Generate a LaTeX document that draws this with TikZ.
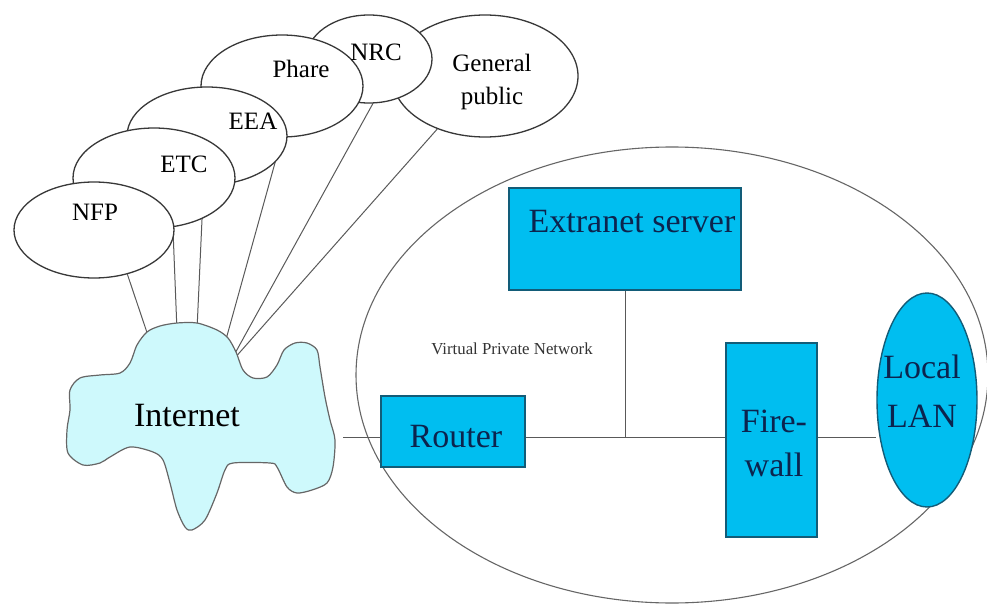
\documentclass[tikz,border=0pt]{standalone}
\usepackage{fontspec}
\setmainfont{Liberation Serif}
\usepackage{xcolor}
\usetikzlibrary{shapes.geometric}
\usetikzlibrary{backgrounds}
\usetikzlibrary{positioning}

\definecolor{devfill}{RGB}{0,190,240}
\definecolor{devline}{RGB}{18,92,120}
\definecolor{devink}{RGB}{12,36,78}
\definecolor{netfill}{RGB}{206,249,252}

\begin{document}
\begin{tikzpicture}[x=0.5pt, y=-0.5pt,
		member/.style={ellipse, draw=black!78, fill=white, line width=0.65pt, inner sep=0pt},
		memtext/.style={font=\fontsize{12.5}{16.5}\selectfont, align=center, inner sep=0pt},
		device/.style={draw=devline, fill=devfill, line width=0.7pt, inner sep=0pt},
		devtext/.style={font=\fontsize{17}{22}\selectfont, text=devink, align=center, inner sep=0pt},
		link/.style={draw=black!65, line width=0.5pt}]

	\useasboundingbox (0,0) rectangle (987,605);

	% private network
	\node[ellipse, draw=black!60, fill=white, line width=0.55pt, minimum width=316pt, minimum height=228pt] (vpn) at (672,375) {};
	\node[font=\fontsize{8.4}{10}\selectfont, text=black!80, inner sep=0pt] (vpntext) at (512,349) {Virtual Private Network};

	\node[device, minimum width=116pt, minimum height=51pt] (ext) at (625,239) {};
	\node[device, minimum width=72pt, minimum height=35.5pt] (router) at (453,431.5) {};
	\node[device, minimum width=45.5pt, minimum height=97pt] (fw) at (771.5,440) {};
	\node[device, ellipse, minimum width=50pt, minimum height=107pt] (lan) at (927,400) {};

	\node[devtext] (exttext) at (632,222) {Extranet server};
	\node[devtext] (routertext) at (456,437) {Router};
	\node[devtext] (fwtext) at (774,443) {Fire-\\wall};
	\node[devtext, font=\fontsize{17}{24.5}\selectfont] (lantext) at (922,391) {Local\\LAN};

	\coordinate (netport) at (343,437);
	\draw[link] (netport) -- (netport -| router.west);
	\draw[link] (router.east |- netport) -- (fw.west |- netport);
	\draw[link] (fw.east |- netport) -- (lan.west |- netport);
	\draw[link] (ext.south) -- (ext.south |- netport);

	% internet cloud
	\draw[draw=black!60, fill=netfill, line width=0.6pt] plot[smooth cycle, tension=0.5] coordinates {
		(147,332) (160,326) (177,323) (197,323) (217,330) (228,338) (236,352) (243,370)
		(253,378) (267,377) (277,365) (284,350) (295,343) (307,343) (317,350) (320,367)
		(325,397) (330,420) (335,440) (333,467) (327,483) (312,490) (297,493) (287,487)
		(277,467) (270,463) (233,463) (225,470) (217,493) (205,520) (192,530) (185,527)
		(177,510) (170,483) (163,460) (153,452) (130,447) (110,457) (100,463) (83,465)
		(68,453) (67,430) (70,410) (70,390) (80,378) (100,375) (120,373) (130,363) (137,345)};
	\node[font=\fontsize{17}{20}\selectfont, inner sep=0pt] (inet) at (187,416) {Internet};

	\coordinate (in1) at (149.5,340);
	\coordinate (in2) at (177,331);
	\coordinate (in3) at (197,330);
	\coordinate (in4) at (225,343);
	\coordinate (in5) at (233,357);
	\coordinate (in6) at (233,360);

	% partners
	\node[member, minimum width=93pt, minimum height=61pt] (gp) at (485,76) {};
	\node[member, minimum width=63pt, minimum height=44pt] (nrc) at (369,59) {};
	\node[member, minimum width=81pt, minimum height=51pt] (phare) at (282,86) {};
	\node[member, minimum width=80pt, minimum height=49pt] (eea) at (207,136) {};
	\node[member, minimum width=81pt, minimum height=50pt] (etc) at (154,178) {};
	\node[member, minimum width=80pt, minimum height=48pt] (nfp) at (94,230) {};

	\node[memtext] (gptext) at (492,82) {General\\public};
	\node[memtext] (nrctext) at (376,52) {NRC};
	\node[memtext] (pharetext) at (301,69) {Phare};
	\node[memtext] (eeatext) at (253,121) {EEA};
	\node[memtext] (etctext) at (184,164) {ETC};
	\node[memtext] (nfptext) at (95,212) {NFP};

	\begin{scope}[on background layer]
		\draw[link] (nfp.-53) -- (in1);
		\draw[link] (etc.-69) -- (in2);
		\draw[link] (eea.-94) -- (in3);
		\draw[link] (phare.-90) -- (in4);
		\draw[link] (nrc.-85) -- (in5);
		\draw[link] (gp.-132) -- (in6);
	\end{scope}
\end{tikzpicture}
\end{document}
